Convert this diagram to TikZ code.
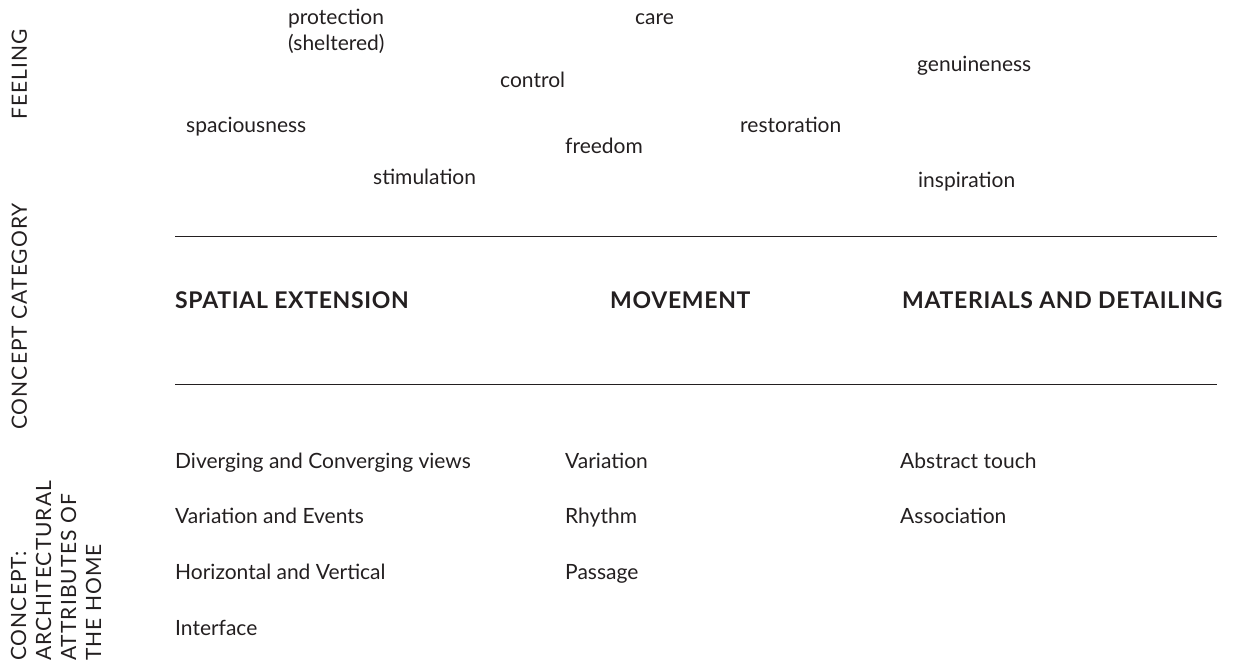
\documentclass[tikz,border=0pt]{standalone}
\usepackage{fontspec}
\setmainfont{Lato}
\newfontfamily\capsfont[LetterSpace=5]{Lato}
\newfontfamily\headfont[LetterSpace=3]{Lato}
\usetikzlibrary{positioning}
\definecolor{Ink}{RGB}{35,31,32}

\begin{document}
\begin{tikzpicture}[x=1pt,y=-1pt,
  feel/.style={anchor=base west,inner sep=0pt,text=Ink,font=\fontsize{21}{26}\selectfont},
  head/.style={anchor=base west,inner sep=0pt,text=Ink,font=\headfont\fontsize{23}{26}\selectfont\bfseries},
  attr/.style={anchor=base west,inner sep=0pt,text=Ink,font=\fontsize{21}{26}\selectfont},
  side/.style={rotate=90,anchor=base west,inner sep=0pt,text=Ink,align=left,font=\capsfont\fontsize{21}{25}\selectfont}]
  \useasboundingbox (0,0) rectangle (1243,666);
  % feelings
  \node[feel,align=left] (prot) at (288,51) {protection\\(sheltered)};
  \node[feel] (care) at (635,25) {care};
  \node[feel] (genu) at (917,72) {genuineness};
  \node[feel] (ctrl) at (500,88) {control};
  \node[feel] (spac) at (186,133) {spaciousness};
  \node[feel] (rest) at (740,133) {restoration};
  \node[feel] (free) at (565,154) {freedom};
  \node[feel] (stim) at (373,185) {stimulation};
  \node[feel] (insp) at (918,187) {inspiration};
  \draw[Ink,line width=0.8pt] (175,236) -- (1217,236);
  % concept categories
  \node[head] (spat) at (175,308) {SPATIAL EXTENSION};
  \node[head] (move) at (610,308) {MOVEMENT};
  \node[head] (mate) at (902,308) {MATERIALS AND DETAILING};
  \draw[Ink,line width=0.8pt] (175,384) -- (1217,384);
  % attributes
  \node[attr] (dive) at (175,468) {Diverging and Converging views};
  \node[attr] (vaev) at (175,523) {Variation and Events};
  \node[attr] (hove) at (175,579) {Horizontal and Vertical};
  \node[attr] (intf) at (175,635) {Interface};
  \node[attr] (vari) at (565,468) {Variation};
  \node[attr] (rhyt) at (565,523) {Rhythm};
  \node[attr] (pass) at (565,579) {Passage};
  \node[attr] (abst) at (900,468) {Abstract touch};
  \node[attr] (asso) at (900,523) {Association};
  % side labels
  \node[side] (lfeel) at (27,120) {FEELING};
  \node[side] (lcat) at (27,430) {CONCEPT CATEGORY};
  \node[side] (lcon) at (101,661) {CONCEPT:\\ARCHITECTURAL\\ATTRIBUTES OF\\THE HOME};
\end{tikzpicture}
\end{document}
